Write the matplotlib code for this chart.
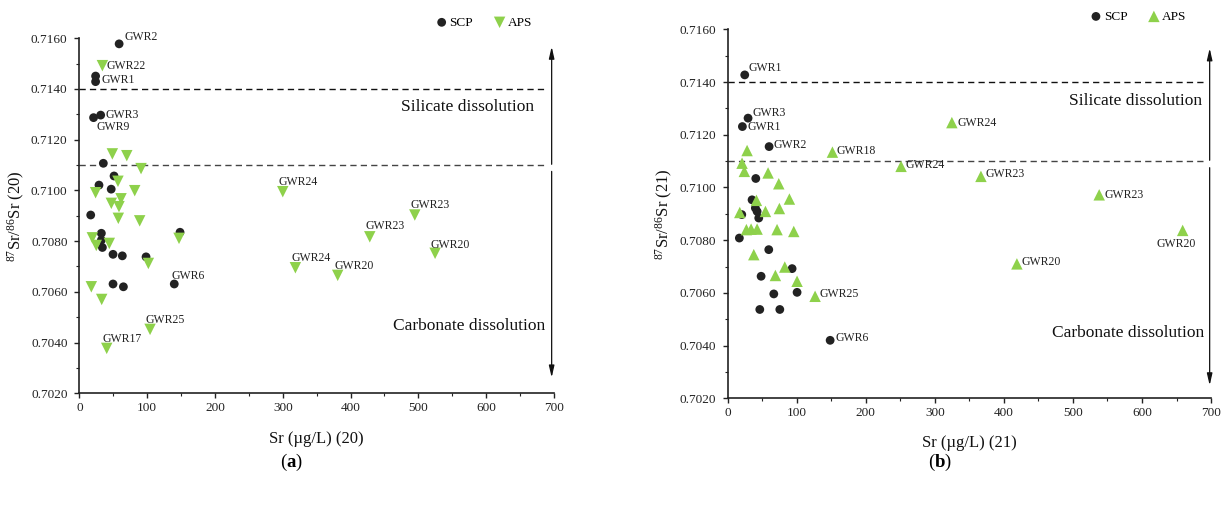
import matplotlib
matplotlib.use('Agg')
import matplotlib.pyplot as plt
from matplotlib.ticker import MultipleLocator, FormatStrFormatter

plt.rcParams['font.family'] = ['Liberation Serif', 'DejaVu Serif']
plt.rcParams['mathtext.fontset'] = 'custom'
plt.rcParams['mathtext.rm'] = 'Liberation Serif'
plt.rcParams['mathtext.it'] = 'Liberation Serif:italic'
plt.rcParams['mathtext.bf'] = 'Liberation Serif:bold'

# ---- panel (a): Sr (20) ----
scp_a_x = [58.7, 24, 24, 31.5, 21, 35.4, 51.2, 29, 47, 16.8, 32.5, 32.5, 34, 49.7, 63.4,
           148.5, 98.4, 49.7, 65, 140]
scp_a_y = [0.71578, 0.71451, 0.71429, 0.71297, 0.71287, 0.71107, 0.71057, 0.71021, 0.71005,
           0.70903, 0.70831, 0.70804, 0.70775, 0.70748, 0.70742, 0.70835, 0.70738, 0.70631,
           0.70620, 0.70631]
scp_a_names = ['GWR2', '', 'GWR1', 'GWR3', 'GWR9', '', '', '', '', '', '', '', '', '', '',
               '', '', '', '', 'GWR6']

aps_a_x = [34, 48.7, 70, 91, 57, 24, 81.7, 47.2, 61.5, 58.5, 57.5, 89, 19.2, 25, 44.2, 147,
           101.8, 17.7, 33, 104.3, 40.4, 300, 318.6, 381, 428.3, 494.7, 524.6]
aps_a_y = [0.71492, 0.71144, 0.71137, 0.71086, 0.71036, 0.70991, 0.70999, 0.70949, 0.70967,
           0.70936, 0.70890, 0.70880, 0.70813, 0.70783, 0.70791, 0.70811, 0.70712, 0.70620,
           0.70570, 0.70452, 0.70377, 0.70995, 0.70695, 0.70665, 0.70817, 0.70903, 0.70752]
aps_a_names = ['GWR22', '', '', '', '', '', '', '', '', '', '', '', '', '', '', '', '', '',
               '', 'GWR25', 'GWR17', 'GWR24', 'GWR24', 'GWR20', 'GWR23', 'GWR23', 'GWR20']

# ---- panel (b): Sr (21) ----
scp_b_x = [24.6, 29.4, 21.2, 59.9, 40.6, 35.2, 40, 42.5, 44.9, 20.3, 16.8, 59.4, 93.2, 48.3,
           66.7, 100.4, 46.4, 75.4, 148.3]
scp_b_y = [0.71427, 0.71263, 0.71231, 0.71155, 0.71034, 0.70953, 0.70922, 0.70909, 0.70884,
           0.70897, 0.70808, 0.70764, 0.70692, 0.70663, 0.70596, 0.70602, 0.70537, 0.70537,
           0.70420]
scp_b_names = ['GWR1', 'GWR3', 'GWR1', 'GWR2', '', '', '', '', '', '', '', '', '', '', '',
               '', '', '', 'GWR6']

aps_b_x = [28, 20.7, 24, 58.4, 73.9, 89.3, 41.5, 74.8, 54.6, 17.4, 27, 33.8, 42.5, 71.4, 95.6,
           37.7, 82.6, 69, 100.4, 126.5, 151.6, 251, 324.6, 366.7, 538, 658.9, 418.8]
aps_b_y = [0.71140, 0.71092, 0.71061, 0.71055, 0.71014, 0.70956, 0.70951, 0.70920, 0.70909,
           0.70905, 0.70840, 0.70842, 0.70842, 0.70840, 0.70833, 0.70745, 0.70698, 0.70666,
           0.70644, 0.70587, 0.71134, 0.71080, 0.71246, 0.71042, 0.70972, 0.70837, 0.70710]
aps_b_names = ['', '', '', '', '', '', '', '', '', '', '', '', '', '', '', '', '', '', '',
               'GWR25', 'GWR18', 'GWR24', 'GWR24', 'GWR23', 'GWR23', 'GWR20', 'GWR20']

boundaries = [0.7140, 0.7110]

# label offsets in points (dx, dy, ha) for each labelled point, in order of appearance
offs_a_scp = [(4, 5, 'left'), (4, 1, 'left'), (3.5, 0, 'left'), (2, -7, 'left'), (-2, 6, 'left')]
offs_a_aps = [(3, 0, 'left'), (-3, 7, 'left'), (-3, 6.5, 'left'), (-3, 7, 'left'),
              (-3, 7, 'left'), (-2, 7, 'left'), (-3, 8, 'left'), (-3, 7, 'left'), (-3, 6, 'left')]
offs_b_scp = [(2.5, 5, 'left'), (3, 3.5, 'left'), (3.5, 0, 'left'), (3.5, 1, 'left'), (4, 1.5, 'left')]
offs_b_aps = [(3.5, 1.5, 'left'), (3, 1, 'left'), (3.5, 1, 'left'), (4, 0, 'left'),
              (3, 1.5, 'left'), (4, 0, 'left'), (-5, -9.5, 'center'), (3.5, 1, 'left')]

DARK = '#222222'
GREEN = '#8ED14B'


def label_points(ax, xs, ys, names, offs):
    k = 0
    for x, y, n in zip(xs, ys, names):
        if not n:
            continue
        dx, dy, ha = offs[k]
        k += 1
        ax.annotate(n, (x, y), xytext=(dx, dy), textcoords='offset points',
                    ha=ha, va='center', fontsize=8.5, color='#222222')


def draw_panel(ax, scp, aps, tri, tag, line_end, arrow_x, arrow_top, arrow_bot,
               sil_pos, carb_pos, leg_pos, ylab_x, xlab_y):
    ax.scatter(scp[0], scp[1], s=40, marker='o', color=DARK, edgecolors='none',
               label='SCP', zorder=3)
    ax.scatter(aps[0], aps[1], s=68, marker=tri, color=GREEN, edgecolors='none',
               label='APS', zorder=3)
    label_points(ax, scp[0], scp[1], scp[2], scp[3])
    label_points(ax, aps[0], aps[1], aps[2], aps[3])

    for b, c in zip(boundaries, ['#111111', '#444444']):
        ax.plot([0, line_end], [b, b], color=c, lw=1, ls=(0, (4.5, 3)), zorder=1)

    ap = dict(arrowstyle='-|>,head_length=0.7,head_width=0.16', color='#111111', lw=0.9,
              shrinkA=0, shrinkB=0)
    ax.annotate('', xy=(arrow_x, arrow_top), xytext=(arrow_x, boundaries[1] + 0.00003),
                arrowprops=ap, annotation_clip=False)
    ax.annotate('', xy=(arrow_x, arrow_bot), xytext=(arrow_x, boundaries[1] - 0.00025),
                arrowprops=ap, annotation_clip=False)

    ax.text(sil_pos[0], sil_pos[1], 'Silicate dissolution', ha='right', va='center',
            fontsize=12.5, color='#111111')
    ax.text(carb_pos[0], carb_pos[1], 'Carbonate dissolution', ha='right', va='center',
            fontsize=12.5, color='#111111')

    ax.set_xlim(0, 700)
    ax.set_ylim(0.7020, 0.7160)
    ax.xaxis.set_major_locator(MultipleLocator(100))
    ax.xaxis.set_minor_locator(MultipleLocator(50))
    ax.yaxis.set_major_locator(MultipleLocator(0.002))
    ax.yaxis.set_minor_locator(MultipleLocator(0.001))
    ax.yaxis.set_major_formatter(FormatStrFormatter('%.4f'))
    for s in ['top', 'right']:
        ax.spines[s].set_visible(False)
    for s in ['left', 'bottom']:
        ax.spines[s].set_linewidth(1.2)
        ax.spines[s].set_color('#222222')
    ax.tick_params(which='major', direction='out', length=3.5, width=1, labelsize=9.5,
                   colors='#222222')
    ax.tick_params(axis='y', which='major', pad=5)
    ax.tick_params(axis='x', which='major', pad=3)
    ax.tick_params(which='minor', direction='out', length=2.5, width=0.8, colors='#222222')

    ax.set_xlabel('Sr (\u00b5g/L) (%s)' % tag, fontsize=12, color='#111111')
    ax.set_ylabel(r'$^{87}$Sr/$^{86}$Sr (%s)' % tag, fontsize=12, color='#111111')
    ax.yaxis.set_label_coords(ylab_x, 0.5)
    ax.xaxis.set_label_coords(0.5, xlab_y)

    ax.legend(loc='center', bbox_to_anchor=leg_pos, ncol=2, frameon=False, fontsize=9.5,
              handletextpad=0.0, columnspacing=1.4, handlelength=1.2, borderpad=0)


fig = plt.figure(figsize=(12.26, 5.07), dpi=100)
ax_a = fig.add_axes([0.0647, 0.2243, 0.3872, 0.7002])
ax_b = fig.add_axes([0.5936, 0.2144, 0.3942, 0.7278])

draw_panel(ax_a, (scp_a_x, scp_a_y, scp_a_names, offs_a_scp),
           (aps_a_x, aps_a_y, aps_a_names, offs_a_aps), 'v', '20',
           line_end=690, arrow_x=696.5, arrow_top=0.71567, arrow_bot=0.70262,
           sil_pos=(670, 0.71330), carb_pos=(687, 0.70466), leg_pos=(0.85, 1.044),
           ylab_x=-0.110, xlab_y=-0.105)
draw_panel(ax_b, (scp_b_x, scp_b_y, scp_b_names, offs_b_scp),
           (aps_b_x, aps_b_y, aps_b_names, offs_b_aps), '^', '21',
           line_end=694, arrow_x=698, arrow_top=0.71528, arrow_bot=0.70249,
           sil_pos=(687, 0.71328), carb_pos=(690, 0.70447), leg_pos=(0.847, 1.034),
           ylab_x=-0.109, xlab_y=-0.10)

fig.text(0.2375, 0.087, r'($\mathbf{a}$)', ha='center', va='center', fontsize=13.5)
fig.text(0.7667, 0.087, r'($\mathbf{b}$)', ha='center', va='center', fontsize=13.5)

fig.savefig('out.png', dpi=100)
